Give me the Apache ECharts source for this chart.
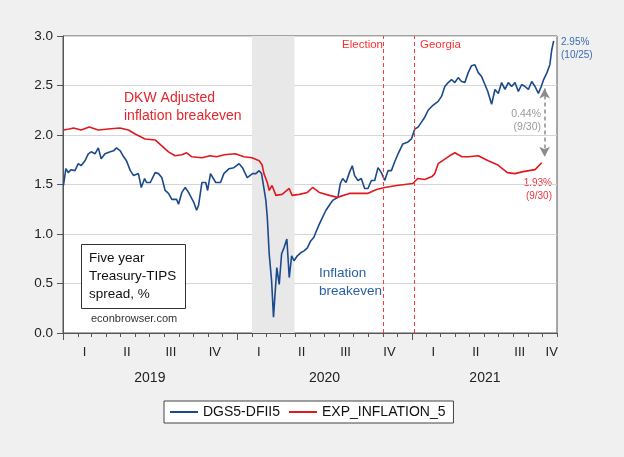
<!DOCTYPE html>
<html><head><meta charset="utf-8">
<script src="https://cdn.jsdelivr.net/npm/echarts@6/dist/echarts.min.js"></script>
<style>html,body{margin:0;padding:0;background:#f0f0f0}#c{width:624px;height:457px}</style>
</head><body><div id="c"></div>
<script>
const blueName = 'DGS5-DFII5';
const redName = 'EXP_INFLATION_5';

const blueDates = ['2019-01-02','2019-01-07','2019-01-12','2019-01-18','2019-01-26','2019-02-02','2019-02-08','2019-02-16','2019-02-23','2019-03-01','2019-03-09','2019-03-16','2019-03-22','2019-03-30','2019-04-10','2019-04-17','2019-04-23','2019-05-01','2019-05-08','2019-05-14','2019-05-22','2019-05-29','2019-06-08','2019-06-14','2019-06-21','2019-06-25','2019-07-03','2019-07-13','2019-07-20','2019-07-27','2019-08-03','2019-08-10','2019-08-17','2019-08-27','2019-08-31','2019-09-07','2019-09-14','2019-09-21','2019-10-02','2019-10-08','2019-10-12','2019-10-19','2019-10-27','2019-10-31','2019-11-06','2019-11-17','2019-11-27','2019-12-04','2019-12-15','2019-12-25','2020-01-05','2020-01-12','2020-01-22','2020-02-02','2020-02-09','2020-02-16','2020-02-21','2020-02-26','2020-03-01','2020-03-04','2020-03-08','2020-03-13','2020-03-17','2020-03-20','2020-03-24','2020-03-29','2020-04-03','2020-04-08','2020-04-14','2020-04-19','2020-04-24','2020-04-29','2020-05-06','2020-05-13','2020-05-20','2020-05-27','2020-06-03','2020-06-10','2020-06-14','2020-06-21','2020-06-28','2020-07-05','2020-07-12','2020-07-19','2020-07-30','2020-08-04','2020-08-09','2020-08-16','2020-08-23','2020-08-29','2020-09-03','2020-09-10','2020-09-17','2020-09-24','2020-10-01','2020-10-08','2020-10-15','2020-10-22','2020-10-29','2020-11-05','2020-11-12','2020-11-19','2020-11-26','2020-12-03','2020-12-13','2020-12-24','2020-12-31','2021-01-07','2021-01-14','2021-01-21','2021-01-28','2021-02-04','2021-02-14','2021-02-25','2021-03-04','2021-03-11','2021-03-18','2021-03-25','2021-04-01','2021-04-08','2021-04-15','2021-04-22','2021-04-29','2021-05-06','2021-05-13','2021-05-20','2021-05-27','2021-06-03','2021-06-09','2021-06-17','2021-06-24','2021-07-01','2021-07-08','2021-07-15','2021-07-22','2021-07-29','2021-08-05','2021-08-12','2021-08-19','2021-08-26','2021-09-02','2021-09-09','2021-09-16','2021-09-23','2021-09-29','2021-10-04','2021-10-11','2021-10-17','2021-10-21','2021-10-25'];
const blueValues = [1.49,1.66,1.62,1.65,1.64,1.71,1.69,1.74,1.81,1.83,1.81,1.87,1.76,1.81,1.83,1.84,1.87,1.84,1.78,1.74,1.64,1.59,1.61,1.47,1.56,1.52,1.52,1.62,1.61,1.57,1.44,1.41,1.35,1.35,1.30,1.42,1.47,1.42,1.32,1.24,1.29,1.52,1.52,1.44,1.61,1.52,1.52,1.61,1.66,1.67,1.71,1.67,1.57,1.61,1.61,1.64,1.61,1.46,1.34,1.17,0.80,0.53,0.16,0.14,0.66,0.49,0.80,0.86,0.95,0.56,0.78,0.73,0.78,0.81,0.83,0.86,0.93,0.97,1.02,1.10,1.17,1.24,1.29,1.34,1.37,1.51,1.56,1.52,1.62,1.69,1.59,1.54,1.56,1.46,1.46,1.54,1.54,1.67,1.62,1.54,1.64,1.64,1.73,1.81,1.91,1.93,1.96,2.06,2.08,2.13,2.18,2.25,2.30,2.34,2.39,2.49,2.53,2.56,2.53,2.58,2.54,2.53,2.63,2.70,2.71,2.63,2.59,2.51,2.44,2.31,2.46,2.42,2.53,2.46,2.53,2.49,2.53,2.44,2.51,2.49,2.46,2.54,2.49,2.42,2.49,2.56,2.63,2.71,2.86,2.95];

const redDates = ['2019-01-02','2019-01-14','2019-01-23','2019-02-08','2019-02-25','2019-03-16','2019-04-06','2019-04-30','2019-05-18','2019-06-01','2019-06-22','2019-07-13','2019-07-27','2019-08-10','2019-08-24','2019-09-07','2019-09-17','2019-09-28','2019-10-19','2019-11-05','2019-11-19','2019-12-05','2019-12-28','2020-01-15','2020-02-01','2020-02-16','2020-02-22','2020-02-26','2020-03-04','2020-03-08','2020-03-14','2020-03-22','2020-04-04','2020-04-19','2020-04-25','2020-05-10','2020-05-27','2020-06-07','2020-06-21','2020-07-12','2020-07-29','2020-08-23','2020-09-30','2020-10-19','2020-11-05','2020-11-30','2021-01-03','2021-01-13','2021-01-28','2021-02-12','2021-02-18','2021-02-25','2021-03-21','2021-04-01','2021-04-16','2021-04-29','2021-05-20','2021-06-10','2021-06-29','2021-07-20','2021-08-05','2021-08-22','2021-09-16','2021-09-30'];
const redValues = [2.05,2.06,2.07,2.05,2.08,2.05,2.06,2.07,2.05,2.01,1.96,1.95,1.89,1.83,1.79,1.80,1.82,1.78,1.77,1.79,1.78,1.80,1.81,1.78,1.77,1.74,1.70,1.61,1.52,1.44,1.49,1.39,1.40,1.46,1.39,1.40,1.42,1.47,1.42,1.39,1.37,1.41,1.41,1.45,1.47,1.49,1.51,1.56,1.55,1.58,1.61,1.71,1.79,1.82,1.78,1.78,1.79,1.74,1.70,1.62,1.61,1.63,1.65,1.72];

const quarterLabels = ['I','II','III','IV'];
const yearLabels = ['2019','2020','2021'];
const yTicks = { min: 0, max: 3, interval: 0.5 };
const axisStart = '2019-01-01';
const axisEnd = '2021-11-01';
const recession = ['2020-02-01','2020-04-30'];
const eventDates = ['2020-11-03','2021-01-05'];
const eventLabels = ['Election','Georgia'];
const arrowDate = '2021-10-06';
const arrowTop = 2.47;
const arrowBottom = 1.78;

function ts(s){ const p = s.split('-').map(Number); return new Date(p[0], p[1]-1, p[2]).getTime(); }

const monthTicks = [], yearTicks = [], quarterCenters = [], yearCenters = [];
for (let y = 2019; y <= 2021; y++) {
  for (let m = 0; m < 12; m++) { const t = new Date(y, m, 1).getTime(); if (t <= ts(axisEnd)) monthTicks.push(t); }
  yearTicks.push(new Date(y, 0, 1).getTime());
  for (let q = 0; q < 4; q++) {
    if (y === 2021 && q === 3) quarterCenters.push(new Date(y, 9, 21).getTime());
    else quarterCenters.push(new Date(y, q*3+1, 15).getTime());
  }
  if (y === 2021) yearCenters.push(new Date(y, 5, 3).getTime());
  else yearCenters.push(new Date(y, 6, 2).getTime());
}

const FONT = "'Liberation Sans', Arial, sans-serif";
const BLUE = '#1b4a8c', RED = '#e0191f';

const chart = echarts.init(document.getElementById('c'), null, {renderer:'canvas'});
chart.setOption({
  animation: false,
  backgroundColor: '#f0f0f0',
  textStyle: { fontFamily: FONT },
  grid: { left: 63, right: 67, top: 36, bottom: 124, show: true, backgroundColor: '#ffffff', borderColor: '#555', borderWidth: 1 },
  legend: {
    left: 164, top: 401, padding: [4, 8, 4, 6], itemGap: 9, itemWidth: 28, itemHeight: 2, icon: 'rect',
    backgroundColor: '#ffffff', borderColor: '#444', borderWidth: 1,
    textStyle: { fontSize: 14, color: '#111', fontFamily: FONT },
    data: [blueName, redName]
  },
  xAxis: [{
    type: 'value', min: ts(axisStart), max: ts(axisEnd),
    axisLine: { show: true, onZero: false, lineStyle: { color: '#555' } },
    axisTick: { show: true, customValues: monthTicks, length: 4, lineStyle: { color: '#555' } },
    axisLabel: { customValues: quarterCenters, margin: 13, fontSize: 13, color: '#222', fontFamily: FONT, showMinLabel: true, showMaxLabel: true,
      formatter: v => quarterLabels[Math.floor(new Date(v).getMonth()/3)] },
    splitLine: { show: false }
  }, {
    type: 'value', min: ts(axisStart), max: ts(axisEnd), position: 'bottom',
    axisLine: { show: false, onZero: false },
    axisTick: { show: true, customValues: yearTicks, length: 7, lineStyle: { color: '#555' } },
    axisLabel: { customValues: yearCenters, margin: 38, fontSize: 14, color: '#222', fontFamily: FONT,
      formatter: v => yearLabels[new Date(v).getFullYear() - 2019] },
    splitLine: { show: false }
  }],
  yAxis: {
    type: 'value', min: yTicks.min, max: yTicks.max, interval: yTicks.interval,
    axisLine: { show: true, lineStyle: { color: '#555' } },
    axisTick: { show: true, length: 6, lineStyle: { color: '#555' } },
    axisLabel: { margin: 10, fontSize: 13.5, color: '#222', fontFamily: FONT, formatter: v => v.toFixed(1) },
    splitLine: { show: true, lineStyle: { color: '#d6d6d6', width: 1 } }
  },
  series: [{
    name: blueName, type: 'line', symbol: 'none', xAxisIndex: 0,
    lineStyle: { color: BLUE, width: 1.6 }, itemStyle: { color: BLUE },
    data: blueDates.map((d, i) => [ts(d), blueValues[i]]),
    markArea: { silent: true, itemStyle: { color: '#e8e8e8' },
      data: [[{ xAxis: ts(recession[0]) }, { xAxis: ts(recession[1]) }]] },
    markLine: { silent: true, symbol: ['arrow', 'arrow'], symbolSize: [8, 10], animation: false,
      lineStyle: { type: [4, 3], color: '#8c8c8c', width: 1.5 }, label: { show: false },
      data: [[{ coord: [ts(arrowDate), arrowTop] }, { coord: [ts(arrowDate), arrowBottom] }]] }
  }, {
    name: redName, type: 'line', symbol: 'none', xAxisIndex: 0,
    lineStyle: { color: RED, width: 1.6 }, itemStyle: { color: RED },
    data: redDates.map((d, i) => [ts(d), redValues[i]]),
    markLine: { silent: true, symbol: 'none', animation: false,
      lineStyle: { type: [4, 3], color: '#ff3a3a', width: 1 }, label: { show: false },
      data: eventDates.map(d => ({ xAxis: ts(d) })) }
  }],
  graphic: [
    { type: 'text', x: 124, y: 89, style: { text: 'DKW Adjusted\ninflation breakeven', fill: '#e5262c', font: '14px ' + FONT, lineHeight: 18, align: 'left', verticalAlign: 'top' } },
    { type: 'text', x: 319, y: 264, style: { text: 'Inflation\nbreakeven', fill: '#2b5ea6', font: '13.5px ' + FONT, lineHeight: 18, align: 'left', verticalAlign: 'top' } },
    { type: 'rect', shape: { x: 81.5, y: 244.5, width: 104, height: 64 }, style: { fill: '#ffffff', stroke: '#333', lineWidth: 1 }, z: 10 },
    { type: 'text', x: 89, y: 249, z: 11, style: { text: 'Five year\nTreasury-TIPS\nspread, %', fill: '#111', font: '13.5px ' + FONT, lineHeight: 18, align: 'left', verticalAlign: 'top' } },
    { type: 'text', x: 91, y: 319, style: { text: 'econbrowser.com', fill: '#333', font: '11px ' + FONT, align: 'left', verticalAlign: 'middle' } },
    { type: 'text', x: 383, y: 45, style: { text: eventLabels[0], fill: '#ff3030', font: '11.5px ' + FONT, align: 'right', verticalAlign: 'middle' } },
    { type: 'text', x: 420, y: 45, style: { text: eventLabels[1], fill: '#ff3030', font: '11.5px ' + FONT, align: 'left', verticalAlign: 'middle' } },
    { type: 'text', x: 561, y: 36, style: { text: '2.95%\n(10/25)', fill: '#3a6cb2', font: '10px ' + FONT, lineHeight: 13, align: 'left', verticalAlign: 'top' } },
    { type: 'text', x: 541, y: 108, style: { text: '0.44%\n(9/30)', fill: '#9a9a9a', font: '10.5px ' + FONT, lineHeight: 13, align: 'right', verticalAlign: 'top' } },
    { type: 'text', x: 552, y: 177, style: { text: '1.93%\n(9/30)', fill: '#e8333a', font: '10px ' + FONT, lineHeight: 13, align: 'right', verticalAlign: 'top' } }
  ]
});
</script>
</body></html>
